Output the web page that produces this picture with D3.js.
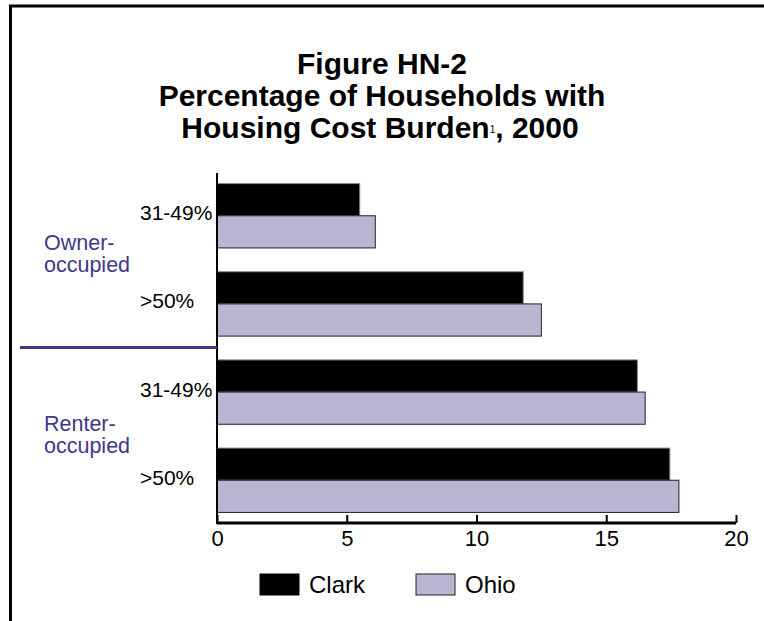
<!DOCTYPE html>
<html><head><meta charset="utf-8">
<script src="https://cdn.jsdelivr.net/npm/d3@7"></script>
<style>
body{margin:0;background:#fff;}
svg{display:block;font-family:"Liberation Sans",Arial,sans-serif;}
</style></head>
<body>
<svg id="chart" width="764" height="621"></svg>
<script>
const categories = ["owner-31", "owner-50", "renter-31", "renter-50"];
const categoryLabels = ["31-49%", ">50%", "31-49%", ">50%"];
const seriesNames = ["Clark", "Ohio"];
const clarkValues = [5.5, 11.8, 16.2, 17.45];
const ohioValues = [6.1, 12.5, 16.5, 17.8];
const xTicks = [0, 5, 10, 15, 20];
const groupLabels = [["Owner-", "occupied"], ["Renter-", "occupied"]];
const titleLines = ["Figure HN-2", "Percentage of Households with", "Housing Cost Burden"];

const colors = {Clark: "#000000", Ohio: "#b9b5d3"};
const purple = "#3f3889";

const svg = d3.select("#chart");

// frame
svg.append("path").attr("d", "M10.5,621 V6 H764").attr("fill", "none")
  .attr("stroke", "#000").attr("stroke-width", 3);

// title
const title = svg.append("text").attr("text-anchor", "middle")
  .attr("font-weight", "bold").attr("font-size", 30).attr("fill", "#000");
title.append("tspan").attr("x", 382).attr("y", 74).text(titleLines[0]);
title.append("tspan").attr("x", 382).attr("y", 106).text(titleLines[1]);
const l3 = title.append("tspan").attr("x", 380).attr("y", 138);
l3.append("tspan").text(titleLines[2]);
l3.append("tspan").attr("font-size", 10).attr("font-weight", "normal").attr("dy", -5).text("1");
l3.append("tspan").attr("dy", 5).text(", 2000");

const x = d3.scaleLinear().domain([0, 20]).range([217, 736]);
const y = d3.scaleBand().domain(categories).range([173, 523]).paddingInner(0.27).paddingOuter(0.12);
const sub = d3.scaleBand().domain(seriesNames).range([0, y.bandwidth()]).padding(0);

const data = categories.map((c, i) => ({cat: c, vals: [
  {s: "Clark", v: clarkValues[i]}, {s: "Ohio", v: ohioValues[i]}]}));

const g = svg.append("g").selectAll("g").data(data).join("g")
  .attr("transform", d => `translate(0,${y(d.cat)})`);
g.selectAll("rect").data(d => d.vals).join("rect")
  .attr("x", x(0))
  .attr("y", d => sub(d.s))
  .attr("width", d => x(d.v) - x(0))
  .attr("height", sub.bandwidth())
  .attr("fill", d => colors[d.s])
  .attr("stroke", d => d.s === "Clark" ? "#888" : "#222")
  .attr("stroke-width", 1);

// x axis
const xAxis = d3.axisBottom(x).tickValues(xTicks).tickSize(-8).tickPadding(7).tickSizeOuter(0);
const ax = svg.append("g").attr("transform", "translate(0,523)").call(xAxis);
ax.select(".domain").attr("stroke", "#000").attr("stroke-width", 3).attr("d", `M${x(0)},0H${x(20)}`);
ax.selectAll(".tick line").attr("stroke", "#000").attr("stroke-width", 2);
ax.selectAll(".tick text").attr("font-size", 22).attr("fill", "#000")
  .attr("font-family", "'Liberation Sans',Arial,sans-serif");

// y axis line
svg.append("line").attr("x1", x(0)).attr("x2", x(0)).attr("y1", 173).attr("y2", 524)
  .attr("stroke", "#000").attr("stroke-width", 2);

// category labels
svg.append("g").selectAll("text").data(categories).join("text")
  .attr("x", 140)
  .attr("y", d => y(d) + y.bandwidth() / 2 - 3)
  .attr("dominant-baseline", "central")
  .attr("font-size", 21).attr("fill", "#000")
  .text((d, i) => categoryLabels[i]);

// group labels
const groupY = [y(categories[0]) + 66, y(categories[2]) + 71];
groupLabels.forEach((lines, i) => {
  const t = svg.append("text").attr("font-size", 21.5).attr("fill", purple);
  lines.forEach((ln, j) => t.append("tspan").attr("x", 44).attr("y", groupY[i] + j * 22).text(ln));
});

// divider
svg.append("line").attr("x1", 20).attr("x2", x(0)).attr("y1", 347.5).attr("y2", 347.5)
  .attr("stroke", purple).attr("stroke-width", 3);

// legend
const leg = svg.append("g").selectAll("g").data(seriesNames).join("g")
  .attr("transform", (d, i) => `translate(${260 + i * 156},574)`);
leg.append("rect").attr("width", 39).attr("height", 21)
  .attr("fill", d => colors[d]).attr("stroke", d => d === "Clark" ? "#000" : "#222");
leg.append("text").attr("x", 49).attr("y", 18.5).attr("font-size", 24).attr("fill", "#000").text(d => d);
</script>
</body></html>
